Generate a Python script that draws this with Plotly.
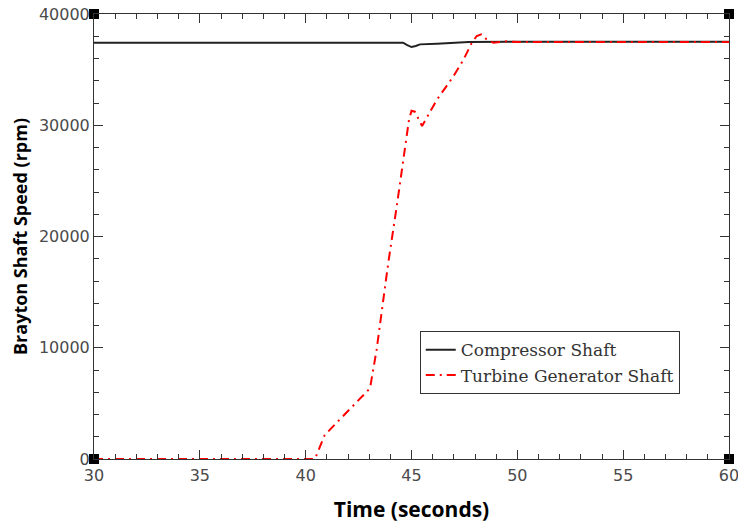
import plotly.graph_objects as go

comp_t = [30, 44.6, 44.8, 45.0, 45.2, 45.4, 46.2, 47.1, 47.7, 50, 60]
comp_v = [37420, 37420, 37200, 37030, 37120, 37270, 37330, 37420, 37480, 37500, 37500]

turb_t = [30, 40.44, 40.9, 43.04, 43.35, 43.9, 44.3, 44.64, 44.88, 45.0, 45.16, 45.5,
          45.71, 46.19, 46.97, 47.45, 47.84, 48.08, 48.3, 48.55, 48.86, 49.5, 50, 60]
turb_v = [0, 0, 2157, 6355, 9800, 17600, 22680, 27030, 30470, 31300, 31220, 29930,
          30620, 32270, 34370, 35870, 37370, 38020, 38170, 37720, 37420, 37550, 37480, 37480]

corner_t = [30, 30, 60, 60]
corner_v = [0, 40000, 0, 40000]

x_range = [30, 60]
y_range = [0, 40000]

fig = go.Figure()
fig.add_trace(go.Scatter(x=comp_t, y=comp_v, mode="lines", name="Compressor Shaft",
                         line=dict(color="#222222", width=2)))
fig.add_trace(go.Scatter(x=turb_t, y=turb_v, mode="lines", name="Turbine Generator Shaft",
                         line=dict(color="#ff0000", width=2, dash="9px,5px,2px,5px")))
fig.add_trace(go.Scatter(x=corner_t, y=corner_v, mode="markers", showlegend=False,
                         xaxis="x2", yaxis="y2",
                         marker=dict(symbol="square", size=10, color="black"),
                         cliponaxis=False))

line_common = dict(showline=True, linecolor="#333333", linewidth=1,
                   ticks="inside", ticklen=9, tickcolor="#333333", showgrid=False,
                   zeroline=False, automargin=False)
label_common = dict(tickformat="d", ticklabeloverflow="allow",
                    tickfont=dict(family="DejaVu Sans", size=16, color="#4a4a4a"))
xminor = dict(ticks="inside", ticklen=5, dtick=1, tickcolor="#333333", showgrid=False)
yminor = dict(ticks="inside", ticklen=5, dtick=2000, tickcolor="#333333", showgrid=False)

fig.update_layout(
    xaxis=dict(range=x_range, dtick=5, tick0=30, minor=xminor, ticklabelstandoff=2,
               title=dict(text="Time (seconds)",
                          font=dict(family="Open Sans", size=21, color="black", weight="bold"),
                          standoff=18),
               **line_common, **label_common),
    yaxis=dict(range=y_range, dtick=10000, tick0=0, minor=yminor,
               title=dict(text="Brayton Shaft Speed (rpm)",
                          font=dict(family="Open Sans", size=18, color="black", weight="bold"),
                          standoff=6),
               **line_common, **label_common),
    xaxis2=dict(range=x_range, dtick=5, tick0=30, minor=xminor, overlaying="x", side="top",
                anchor="y2", showticklabels=False, **line_common),
    yaxis2=dict(range=y_range, dtick=10000, tick0=0, minor=yminor, overlaying="y", side="right",
                anchor="x2", showticklabels=False, **line_common),
    width=738, height=523,
    margin=dict(l=94, r=9, t=14, b=64),
    paper_bgcolor="white", plot_bgcolor="white",
    font=dict(family="Open Sans"),
    legend=dict(x=0.513, y=0.287, xanchor="left", yanchor="top",
                bgcolor="white", bordercolor="#333333", borderwidth=1,
                font=dict(family="DejaVu Serif", size=17, color="#333333"),
                tracegroupgap=2),
)

fig.write_html("out.html")
